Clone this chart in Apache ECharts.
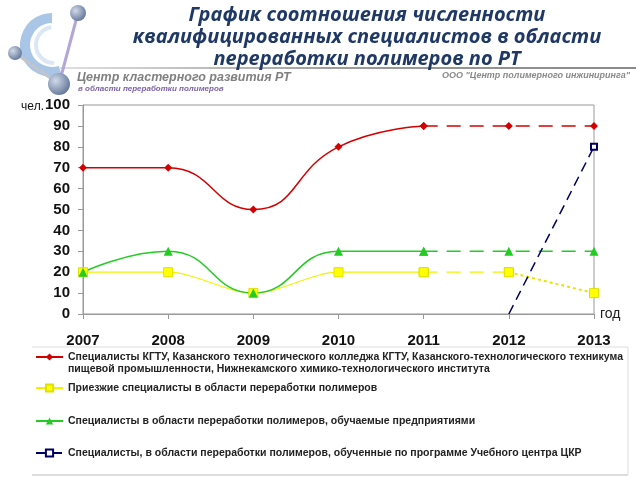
<!DOCTYPE html>
<html><head><meta charset="utf-8">
<script src="https://cdn.jsdelivr.net/npm/echarts@6/dist/echarts.min.js"></script>
<style>html,body{margin:0;padding:0;background:#fff}#c{width:640px;height:480px}</style>
</head><body><div id="c"></div>
<script>
var years = ['2007','2008','2009','2010','2011','2012','2013'];
var kgtu = [70, 70, 50, 80, 90, 90, 90];
var arrived = [20, 20, 10, 20, 20, 20, 10];
var trained = [20, 30, 10, 30, 30, 30, 30];
var ckr = [null, null, null, null, null, 0, 80];
var yTicks = [0,10,20,30,40,50,60,70,80,90,100];

var nRed = 'Специалисты КГТУ, Казанского технологического колледжа КГТУ, Казанского-технологического техникума\nпищевой промышленности, Нижнекамского химико-технологического института';
var nYel = 'Приезжие специалисты в области переработки полимеров';
var nGrn = 'Специалисты в области переработки полимеров, обучаемые предприятиями';
var nBlu = 'Специалисты, в области переработки полимеров, обученные по программе Учебного центра ЦКР';

function part(arr, a, b){ return arr.map(function(v,i){ return (i>=a && i<=b) ? v : null; }); }

var RED='#d40000', YEL='#f2f200', GRN='#22cc22', BLU='#000060';
var legTxt = {fontFamily:'Liberation Sans', fontSize:10.5, fontWeight:'bold', color:'#222', lineHeight:12};
var ballFill = function(){ return new echarts.graphic.RadialGradient(0.35,0.35,0.8,[{offset:0,color:'#d0d9e8'},{offset:1,color:'#55698e'}]); };

var chart = echarts.init(document.getElementById('c'), null, {renderer:'canvas'});
chart.setOption({
  animation:false,
  title:{text:'График соотношения численности\nквалифицированных специалистов в области\nпереработки полимеров по РТ', left:362, top:-1, textAlign:'center',
    textStyle:{fontFamily:'Open Sans', fontStyle:'italic', fontWeight:'bold', fontSize:20, lineHeight:22, color:'#1f3866'}},
  grid:{left:83, right:46, top:105, bottom:166, show:true, borderColor:'#999', borderWidth:1},
  xAxis:{type:'category', data:years, boundaryGap:false,
    name:'год', nameLocation:'end', nameGap:6, nameTextStyle:{fontFamily:'Liberation Sans', fontSize:14, color:'#222', verticalAlign:'middle', padding:[8,0,0,0]},
    axisLine:{lineStyle:{color:'#999'}}, axisTick:{show:true, length:5, lineStyle:{color:'#999'}},
    axisLabel:{margin:19, fontFamily:'Liberation Sans', fontWeight:'bold', fontSize:15, color:'#111'}},
  yAxis:{type:'value', min:0, max:100, interval:10, splitLine:{show:false},
    axisLine:{show:true, lineStyle:{color:'#999'}}, axisTick:{show:true, length:5, lineStyle:{color:'#999'}},
    axisLabel:{margin:13, fontFamily:'Liberation Sans', fontWeight:'bold', fontSize:15, color:'#111',
      formatter:function(v){ return v===yTicks[yTicks.length-1] ? '{u|чел.}'+v : String(v); },
      rich:{u:{fontFamily:'Liberation Sans', fontSize:12, fontWeight:'normal', color:'#111', padding:[3,1,0,0]}}}},
  legend:[
    {data:[nRed], orient:'vertical', left:35, top:339, itemWidth:27, itemHeight:9, itemGap:5, padding:0, textStyle:legTxt,
      formatter:function(n){ return '\n'+n; }},
    {data:[nYel], orient:'vertical', left:35, top:382, itemWidth:27, itemHeight:9, itemGap:5, padding:0, textStyle:legTxt},
    {data:[nGrn], orient:'vertical', left:35, top:415, itemWidth:27, itemHeight:9, itemGap:5, padding:0, textStyle:legTxt},
    {data:[nBlu], orient:'vertical', left:35, top:447, itemWidth:27, itemHeight:9, itemGap:5, padding:0, textStyle:legTxt}
  ],
  graphic:[
    {type:'line', shape:{x1:32,y1:347,x2:628,y2:347}, style:{stroke:'#ddd', lineWidth:1}},
    {type:'line', shape:{x1:32,y1:475,x2:628,y2:475}, style:{stroke:'#bbb', lineWidth:1}},
    {type:'line', shape:{x1:628,y1:347,x2:628,y2:475}, style:{stroke:'#ddd', lineWidth:1}},
    {type:'line', shape:{x1:60,y1:68,x2:636,y2:68}, style:{stroke:new echarts.graphic.LinearGradient(0,0,1,0,[{offset:0,color:'#e0e0e0'},{offset:0.5,color:'#9a9a9a'},{offset:1,color:'#8a8a8a'}]), lineWidth:2}},
    {type:'arc', shape:{cx:52,cy:45,r:27,startAngle:Math.PI*0.4,endAngle:Math.PI*1.5}, style:{stroke:'#a9c6e6', lineWidth:10, fill:null}},
    {type:'arc', shape:{cx:54,cy:45,r:18,startAngle:Math.PI*0.5,endAngle:Math.PI*1.45}, style:{stroke:'#dbe7f5', lineWidth:4, fill:null}},
    {type:'line', shape:{x1:78,y1:13,x2:59,y2:84}, style:{stroke:'#b5a4d8', lineWidth:3}},
    {type:'line', shape:{x1:15,y1:53,x2:59,y2:84}, style:{stroke:'#c0c4cc', lineWidth:3}},
    {type:'circle', shape:{cx:78,cy:13,r:8}, style:{fill:ballFill()}},
    {type:'circle', shape:{cx:15,cy:53,r:7}, style:{fill:ballFill()}},
    {type:'circle', shape:{cx:59,cy:84,r:11}, style:{fill:ballFill()}},
    {type:'text', left:77, top:71, style:{text:'Центр кластерного развития РТ', font:'italic bold 12.5px "Liberation Sans"', fill:'#808080'}},
    {type:'text', left:78, top:85, style:{text:'в области переработки полимеров', font:'italic bold 8px "Liberation Sans"', fill:'#7b5fa5'}},
    {type:'text', right:10, top:71, style:{text:'ООО "Центр полимерного инжиниринга"', font:'italic bold 9px "Liberation Sans"', fill:'#8a8a8a'}}
  ],
  series:[
    {name:nRed, type:'line', smooth:0.5, data:part(kgtu,0,4), symbol:'diamond', symbolSize:8, itemStyle:{color:RED}, lineStyle:{color:RED, width:1.5}},
    {name:nRed, type:'line', data:part(kgtu,4,6), symbol:'diamond', symbolSize:8, itemStyle:{color:RED}, lineStyle:{color:RED, width:1.5, type:[14,9]}},
    {name:nYel, type:'line', smooth:0.3, data:part(arrived,0,4), symbol:'rect', symbolSize:9, itemStyle:{color:'#ffff00', borderColor:'#e0e000', borderWidth:1}, lineStyle:{color:YEL, width:1.2}},
    {name:nYel, type:'line', data:part(arrived,4,5), symbol:'rect', symbolSize:9, itemStyle:{color:'#ffff00', borderColor:'#e0e000', borderWidth:1}, lineStyle:{color:YEL, width:1.2, type:[14,9]}},
    {name:nYel, type:'line', data:part(arrived,5,6), symbol:'rect', symbolSize:9, itemStyle:{color:'#ffff00', borderColor:'#e0e000', borderWidth:1}, lineStyle:{color:'#e6e600', width:2, type:[3,3]}},
    {name:nGrn, type:'line', smooth:0.5, data:part(trained,0,4), symbol:'triangle', symbolSize:9, itemStyle:{color:GRN}, lineStyle:{color:GRN, width:1.5}},
    {name:nGrn, type:'line', data:part(trained,4,6), symbol:'triangle', symbolSize:9, itemStyle:{color:GRN}, lineStyle:{color:GRN, width:1.5, type:[14,9]}},
    {name:nBlu, type:'line', data:ckr.map(function(v,i){ return i===5 ? {value:v, symbol:'none'} : v; }), symbol:'emptyRect', symbolSize:6, itemStyle:{color:BLU, borderWidth:1}, lineStyle:{color:BLU, width:1.5, type:[10,6]}}
  ]
});
</script></body></html>
